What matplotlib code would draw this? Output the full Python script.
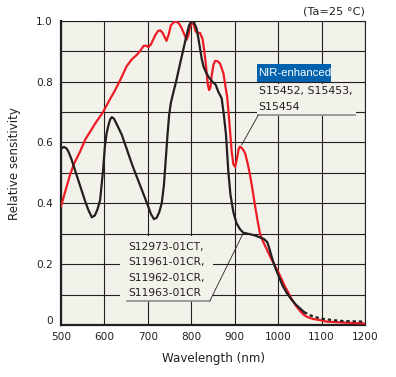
import numpy as np
import matplotlib
matplotlib.use("Agg")
import matplotlib.pyplot as plt
from matplotlib.patches import Rectangle
from matplotlib.transforms import ScaledTranslation

# S12973-01CT / S11961..S11963-01CR (black)
black_wl = [500, 507, 513, 517, 524, 532, 540, 548, 556, 563, 571, 578, 584, 590,
            597, 601, 605, 609, 613, 617, 622, 630, 640, 651, 663, 675, 686, 694,
            701, 707, 714, 720, 726, 732, 737, 741, 745, 749, 753, 758, 765, 772,
            780, 788, 795, 801, 806, 812, 816, 820, 824, 828, 834, 840, 848, 856,
            862, 870, 875, 880, 885, 890, 897, 904, 912, 920, 930, 945, 958, 968,
            975, 980, 986, 993, 1000, 1010, 1020, 1030, 1040, 1050, 1060]
black_val = [0.58, 0.585, 0.58, 0.57, 0.545, 0.51, 0.475, 0.44, 0.405, 0.378, 0.354,
             0.36, 0.38, 0.41, 0.51, 0.586, 0.63, 0.655, 0.675, 0.683, 0.678, 0.655,
             0.625, 0.58, 0.53, 0.485, 0.445, 0.415, 0.389, 0.365, 0.348, 0.352, 0.37,
             0.40, 0.46, 0.54, 0.62, 0.69, 0.73, 0.76, 0.80, 0.845, 0.895, 0.945,
             0.985, 1.0, 0.995, 0.975, 0.945, 0.91, 0.875, 0.85, 0.83, 0.815, 0.80,
             0.79, 0.767, 0.745, 0.69, 0.624, 0.51, 0.43, 0.37, 0.335, 0.315, 0.303,
             0.30, 0.295, 0.288, 0.282, 0.272, 0.25, 0.22, 0.19, 0.165, 0.13, 0.105,
             0.085, 0.068, 0.055, 0.042]
black_tail_wl = [1060, 1080, 1100, 1126, 1150, 1175, 1200]
black_tail_val = [0.042, 0.028, 0.021, 0.016, 0.013, 0.012, 0.011]

# NIR-enhanced S15452, S15453, S15454 (red)
red_wl = [500, 510, 520, 530, 544, 556, 567, 580, 597, 610, 624, 638, 651, 663, 674,
          682, 690, 696, 701, 707, 712, 718, 724, 729, 734, 739, 743, 748, 753, 760,
          766, 772, 778, 784, 789, 793, 797, 801, 805, 810, 816, 820, 826, 830, 834,
          838, 841, 844, 847, 851, 855, 860, 866, 874, 883, 888, 893, 897, 901, 905,
          909, 912, 916, 920, 924, 930, 935, 941, 947, 953, 958, 965, 975, 985, 1000,
          1016, 1030, 1040, 1050, 1058, 1066, 1080, 1100, 1112, 1150, 1200]
red_val = [0.39, 0.44, 0.49, 0.53, 0.57, 0.61, 0.635, 0.665, 0.70, 0.735, 0.77, 0.81,
           0.85, 0.873, 0.887, 0.90, 0.917, 0.918, 0.913, 0.922, 0.937, 0.955, 0.967,
           0.968, 0.96, 0.945, 0.934, 0.955, 0.985, 0.995, 0.997, 0.99, 0.975, 0.955,
           0.937, 0.95, 0.98, 0.99, 0.99, 0.965, 0.96, 0.96, 0.94, 0.90, 0.85, 0.79,
           0.772, 0.78, 0.82, 0.855, 0.868, 0.867, 0.86, 0.827, 0.745, 0.66, 0.57,
           0.528, 0.52, 0.545, 0.578, 0.586, 0.582, 0.575, 0.564, 0.53, 0.495, 0.445,
           0.39, 0.34, 0.302, 0.275, 0.245, 0.215, 0.175, 0.126, 0.088, 0.065, 0.047,
           0.035, 0.027, 0.02, 0.015, 0.011, 0.008, 0.005]

x_ticks = [500, 600, 700, 800, 900, 1000, 1100, 1200]
y_ticklabels = ["0", "0.2", "0.4", "0.6", "0.8", "1.0"]
red_label = ["S15452, S15453,", "S15454"]
black_label = ["S12973-01CT,", "S11961-01CR,", "S11962-01CR,", "S11963-01CR"]

ink = "#231f20"
bg = "#f3f2ea"
red = "#ed1c24"

plt.rcParams["font.family"] = ["DejaVu Sans"]

fig = plt.figure(figsize=(3.96, 3.77), dpi=100)
ax = fig.add_axes([61 / 396, 52 / 377, 304 / 396, 304.3 / 377])
ax.set_facecolor(bg)
ax.set_axisbelow(True)

ax.set_xlim(500, 1200)
ax.set_ylim(0, 1.0)
ax.grid(True, color=ink, linewidth=0.8)
ax.set_xticks(x_ticks)
ax.set_xticklabels([str(v) for v in x_ticks])
ax.set_yticks(np.arange(0, 1.001, 0.1))
ax.set_yticklabels(["" if i % 2 else y_ticklabels[i // 2] for i in range(11)])
ax.tick_params(length=0, labelsize=7.6, labelcolor=ink, pad=5)
ax.tick_params(axis="y", pad=6)
# lift the "0" label a bit as in the original
lbl0 = ax.get_yticklabels()[0]
lbl0.set_transform(lbl0.get_transform() + ScaledTranslation(0, 5 / 100, fig.dpi_scale_trans))

for s in ["top", "right"]:
    ax.spines[s].set_linewidth(0.8)
    ax.spines[s].set_color(ink)
for s in ["left", "bottom"]:
    ax.spines[s].set_linewidth(1.6)
    ax.spines[s].set_color(ink)

ax.set_xlabel("Wavelength (nm)", fontsize=8.6, color=ink, labelpad=7)
ax.set_ylabel("Relative sensitivity", fontsize=8.6, color=ink)
ax.yaxis.set_label_coords(-0.13, 0.53)

# label areas hide the grid
ax.add_patch(Rectangle((951, 0.687), 228, 0.105, facecolor=bg, edgecolor="none", zorder=1))
ax.add_patch(Rectangle((636, 0.079), 215, 0.213, facecolor=bg, edgecolor="none", zorder=1))

ax.plot(red_wl, red_val, color=red, linewidth=1.6, zorder=3)
ax.plot(black_wl, black_val, color=ink, linewidth=1.6, zorder=4)
ax.plot(black_tail_wl, black_tail_val, color=ink, linewidth=1.6,
        linestyle=(0, (1.5, 1.3)), zorder=4)

# red label
ax.add_patch(Rectangle((951, 0.799), 170, 0.059, facecolor="#0062ad", edgecolor="none", zorder=5))
ax.text(954, 0.829, "NIR-enhanced", color="white", fontsize=8.2,
        family=["Liberation Sans"], va="center", ha="left", zorder=6)
ax.text(955, 0.769, red_label[0], fontsize=7.9, color=ink, va="center", zorder=6)
ax.text(955, 0.717, red_label[1], fontsize=7.9, color=ink, va="center", zorder=6)
ax.plot([954, 1177], [0.689, 0.689], color="#8c8c8c", linewidth=1.2, zorder=5)
ax.plot([916, 954], [0.592, 0.689], color=ink, linewidth=0.6, zorder=5)

# black label
for i, t in enumerate(black_label):
    ax.text(655, 0.256 - i * 0.0505, t, fontsize=7.7, color=ink, va="center", zorder=6)
ax.plot([652, 843], [0.08, 0.08], color="#8c8c8c", linewidth=1.2, zorder=5)
ax.plot([843, 920], [0.08, 0.303], color=ink, linewidth=0.6, zorder=5)

fig.text(365 / 396, 1 - 12 / 377, "(Ta=25 °C)", fontsize=8.2, color=ink,
         ha="right", va="center")

fig.savefig("out.png", dpi=100)
